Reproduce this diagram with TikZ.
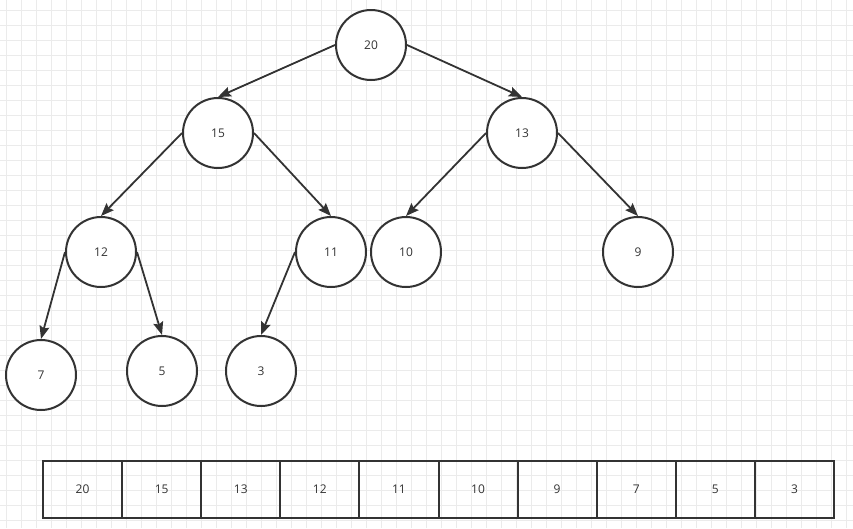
\documentclass[tikz,border=0pt]{standalone}
\usepackage{fontspec}
\setmainfont{Open Sans}
\usetikzlibrary{arrows.meta}
\definecolor{ink}{HTML}{333333}
\definecolor{gridc}{HTML}{EBEBEB}
\begin{document}
\begin{tikzpicture}[x=1pt,y=-1pt,
  heapnode/.style={circle,draw=ink,line width=2pt,minimum size=70pt,inner sep=0pt,fill=white,font=\fontsize{12}{14}\selectfont,text=ink},
  cell/.style={rectangle,draw=ink,line width=2pt,minimum width=79.1pt,minimum height=57pt,inner sep=0pt,outer sep=0pt,font=\fontsize{12}{14}\selectfont,text=ink,anchor=west},
  link/.style={draw=ink,line width=1.8pt,-{Stealth[length=13pt,width=10pt,inset=2pt]}}]
\useasboundingbox (0,0) rectangle (853,528);
\fill[white] (0,0) rectangle (853,528);
\foreach \i in {0,...,56} {\draw[gridc,line width=1pt] ({6.7+15*\i},0) -- ({6.7+15*\i},528);}
\foreach \j in {0,...,35} {\draw[gridc,line width=1pt] (0,{10+15*\j}) -- (853,{10+15*\j});}
\node[heapnode] (n20) at (371,45) {20};
\node[heapnode] (n15) at (218,133) {15};
\node[heapnode] (n13) at (522,133) {13};
\node[heapnode] (n12) at (101,252) {12};
\node[heapnode] (n11) at (331,252) {11};
\node[heapnode] (n10) at (406,252) {10};
\node[heapnode] (n9) at (638,252) {9};
\node[heapnode] (n7) at (41,375) {7};
\node[heapnode] (n5) at (162,371) {5};
\node[heapnode] (n3) at (261,371) {3};
\draw[link] (n20.west) -- (n15.north);
\draw[link] (n20.east) -- (n13.north);
\draw[link] (n15.west) -- (n12.north);
\draw[link] (n15.east) -- (n11.north);
\draw[link] (n13.west) -- (n10.north);
\draw[link] (n13.east) -- (n9.north);
\draw[link] (n12.west) -- (n7.north);
\draw[link] (n12.east) -- (n5.north);
\draw[link] (n11.west) -- (n3.north);
\node[cell] (c1) at (43,489.5) {20};
\node[cell] (c2) at (c1.east) {15};
\node[cell] (c3) at (c2.east) {13};
\node[cell] (c4) at (c3.east) {12};
\node[cell] (c5) at (c4.east) {11};
\node[cell] (c6) at (c5.east) {10};
\node[cell] (c7) at (c6.east) {9};
\node[cell] (c8) at (c7.east) {7};
\node[cell] (c9) at (c8.east) {5};
\node[cell] (c10) at (c9.east) {3};
\end{tikzpicture}
\end{document}
